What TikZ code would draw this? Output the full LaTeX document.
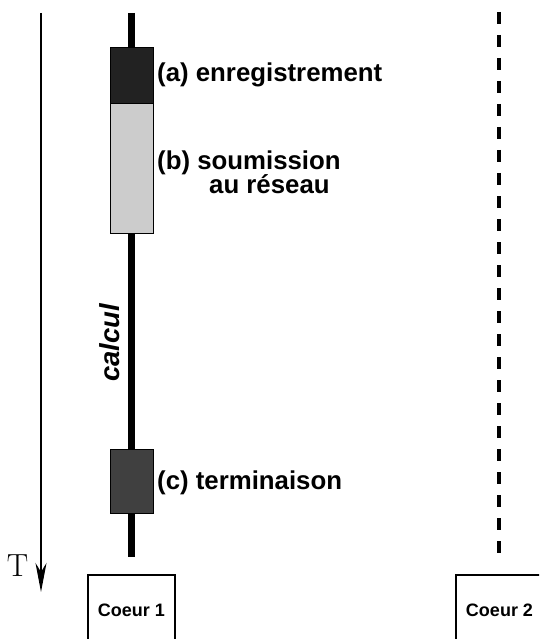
\documentclass[tikz,border=0pt]{standalone}
\usepackage{fontspec}
\setsansfont{Liberation Sans}
\usetikzlibrary{arrows.meta}
\definecolor{boxa}{HTML}{222222}
\definecolor{boxb}{HTML}{CCCCCC}
\definecolor{boxc}{HTML}{404040}
\begin{document}
\begin{tikzpicture}[x=1pt,y=-1pt,
  phase/.style={draw=black,line width=0.9pt,inner sep=0pt,minimum width=43pt},
  lbl/.style={inner sep=0pt,anchor=base west,font=\fontsize{25.8}{30}\selectfont\sffamily\bfseries},
  core/.style={draw=black,line width=2.6pt,inner sep=0pt,minimum width=87pt,minimum height=70pt,font=\fontsize{18}{22}\selectfont\sffamily\bfseries}]
\useasboundingbox (0,0) rectangle (539,639);
\begin{scope}
\clip (0,0) rectangle (539,639);
% time axis
\coordinate (ttop) at (41,13);
\coordinate (tbot) at (41,592);
\draw[line width=2pt,-{Stealth[length=29pt,width=11pt,inset=9pt]}] (ttop) -- (tbot);
\node[inner sep=0pt,font=\fontsize{32}{36}\selectfont\rmfamily] (T) at (17.5,566) {T};
% core 1 thread
\coordinate (c1top) at (131,13);
\coordinate (c1bot) at (131,557);
\draw[line width=7pt] (c1top) -- (c1bot);
\node[phase,fill=boxa,minimum height=56pt] (a) at (131.5,75) {};
\node[phase,fill=boxb,minimum height=130pt] (b) at (131.5,168) {};
\node[phase,fill=boxc,minimum height=64pt] (c) at (131.5,481) {};
\node[lbl] (la) at (157,82) {(a) enregistrement};
\node[lbl] (lb1) at (157,169) {(b) soumission};
\node[lbl] (lb2) at (209,193.5) {au réseau};
\node[lbl] (lc) at (157,489) {(c) terminaison};
\node[inner sep=0pt,rotate=90,font=\fontsize{27.5}{30}\selectfont\sffamily\bfseries\itshape] (calc) at (110,343) {calcul};
% core 2 thread
\coordinate (c2top) at (499,12);
\coordinate (c2bot) at (499,553);
\draw[line width=3.3pt,dash pattern=on 12pt off 11pt] (c2top) -- (c2bot);
% cores
\node[core] (core1) at (131.5,610) {Coeur 1};
\node[core] (core2) at (499.5,610) {Coeur 2};
\end{scope}
\end{tikzpicture}
\end{document}
